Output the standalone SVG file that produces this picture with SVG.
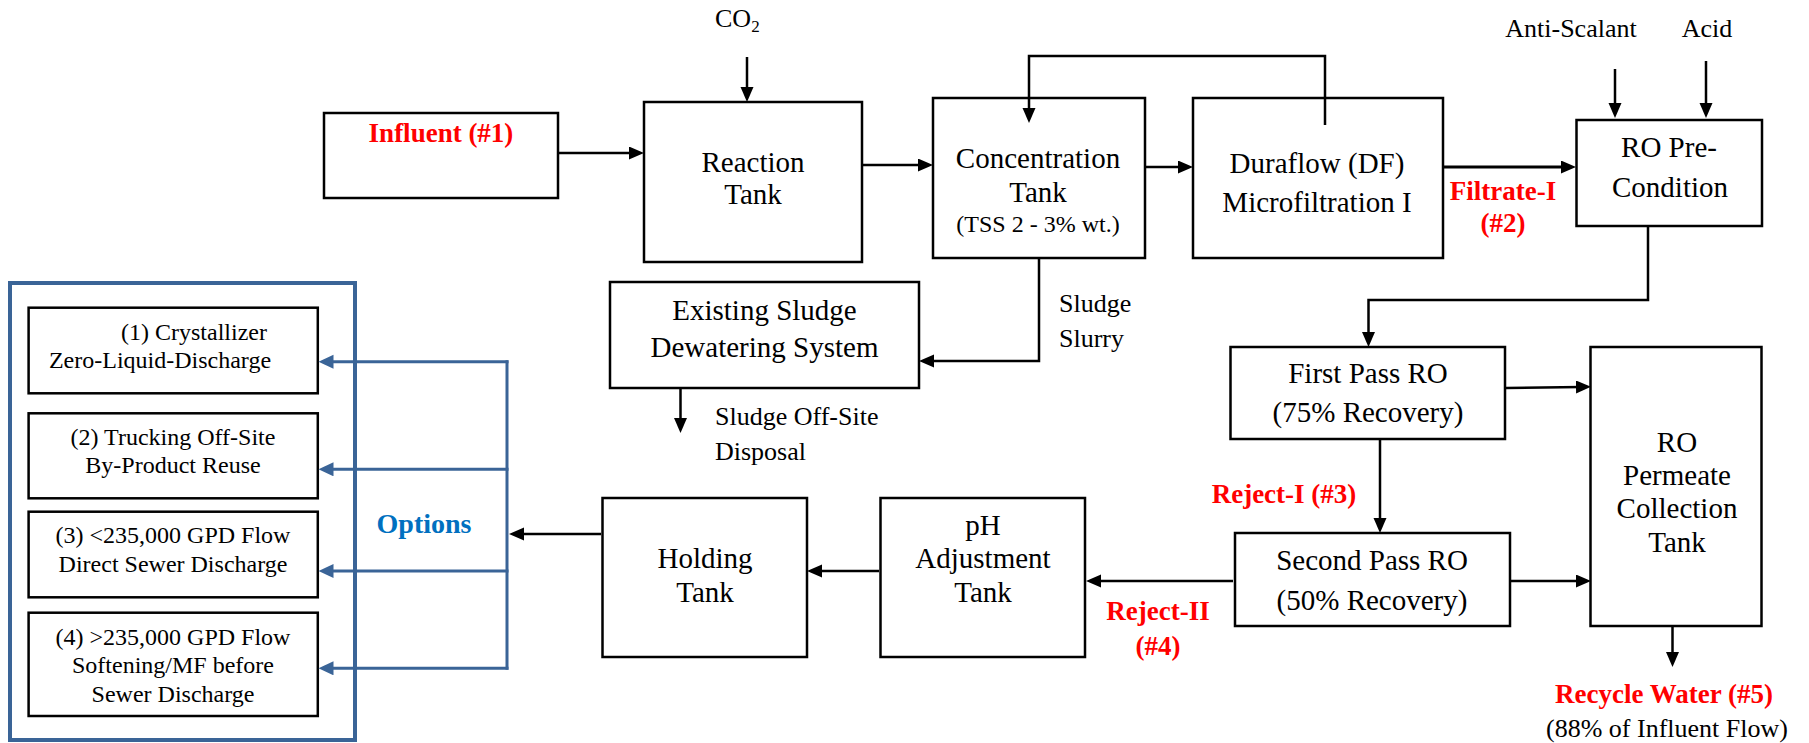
<svg xmlns="http://www.w3.org/2000/svg" width="1809" height="743" viewBox="0 0 1809 743">
<style>
.box{fill:#fff;stroke:#000;stroke-width:2.5}
.t{font-family:"Liberation Serif","Times New Roman",serif;font-size:29px;fill:#000;text-anchor:middle}
.s{font-family:"Liberation Serif","Times New Roman",serif;font-size:26px;fill:#000}
.o{font-family:"Liberation Serif","Times New Roman",serif;font-size:24px;fill:#000;text-anchor:middle}
.r{font-family:"Liberation Serif","Times New Roman",serif;font-size:27px;font-weight:bold;fill:#ff0000;text-anchor:middle}
.c{fill:none;stroke:#000;stroke-width:2.5}
.b{fill:none;stroke:#3a6497;stroke-width:3}
</style>
<defs>
<marker id="ah" markerUnits="userSpaceOnUse" markerWidth="16" markerHeight="14" refX="5" refY="6.5" orient="auto">
<path d="M0,0 L15,6.5 L0,13 z" fill="#000"/>
</marker>
<marker id="bh" markerUnits="userSpaceOnUse" markerWidth="16" markerHeight="15" refX="5" refY="7" orient="auto">
<path d="M0,0 L15,7 L0,14 z" fill="#3a6497"/>
</marker>
</defs>
<rect x="0" y="0" width="1809" height="743" fill="#fff"/>

<g id="influent">
<rect class="box" x="324" y="113" width="234" height="85"/>
<text class="r" x="441" y="142">Influent (#1)</text>
</g>
<g id="co2">
<text class="s" x="715" y="27">CO<tspan font-size="17" dy="5">2</tspan></text>
</g>
<g id="reaction-tank">
<rect class="box" x="644" y="102" width="218" height="160"/>
<text class="t" x="753" y="172">Reaction</text>
<text class="t" x="753" y="204">Tank</text>
</g>
<g id="concentration-tank">
<rect class="box" x="933" y="98" width="212" height="160"/>
<text class="t" x="1038" y="168">Concentration</text>
<text class="t" x="1038" y="202">Tank</text>
<text class="t" style="font-size:24px" x="1038" y="232">(TSS 2 - 3% wt.)</text>
</g>
<g id="duraflow">
<rect class="box" x="1193" y="98" width="250" height="160"/>
<text class="t" x="1317" y="173">Duraflow (DF)</text>
<text class="t" x="1317" y="212">Microfiltration I</text>
</g>
<g id="filtrate-label">
<text class="r" x="1503" y="200">Filtrate-I</text>
<text class="r" x="1503" y="232">(#2)</text>
</g>
<g id="anti-scalant">
<text class="s" x="1571" y="37" text-anchor="middle">Anti-Scalant</text>
</g>
<g id="acid">
<text class="s" x="1707" y="37" text-anchor="middle">Acid</text>
</g>
<g id="ro-precondition">
<rect class="box" x="1576.5" y="120" width="185.5" height="106"/>
<text class="t" x="1669" y="157">RO Pre-</text>
<text class="t" x="1670" y="197">Condition</text>
</g>
<g id="sludge-dewatering">
<rect class="box" x="610" y="282" width="309" height="106"/>
<text class="t" x="764.5" y="320">Existing Sludge</text>
<text class="t" x="764.5" y="357">Dewatering System</text>
</g>
<g id="sludge-slurry">
<text class="s" x="1059" y="312">Sludge</text>
<text class="s" x="1059" y="347">Slurry</text>
</g>
<g id="sludge-disposal">
<text class="s" x="715" y="425">Sludge Off-Site</text>
<text class="s" x="715" y="460">Disposal</text>
</g>
<g id="first-pass-ro">
<rect class="box" x="1230.5" y="347" width="274.5" height="92"/>
<text class="t" x="1368" y="383">First Pass RO</text>
<text class="t" x="1368" y="422">(75% Recovery)</text>
</g>
<g id="reject-1">
<text class="r" x="1284" y="503">Reject-I (#3)</text>
</g>
<g id="second-pass-ro">
<rect class="box" x="1235" y="533" width="275" height="93"/>
<text class="t" x="1372" y="570">Second Pass RO</text>
<text class="t" x="1372" y="610">(50% Recovery)</text>
</g>
<g id="permeate-tank">
<rect class="box" x="1590.5" y="347" width="171" height="279"/>
<text class="t" x="1677" y="452">RO</text>
<text class="t" x="1677" y="485">Permeate</text>
<text class="t" x="1677" y="518">Collection</text>
<text class="t" x="1677" y="552">Tank</text>
</g>
<g id="recycle-water">
<text class="r" x="1664" y="703">Recycle Water (#5)</text>
<text class="s" x="1667" y="737" text-anchor="middle">(88% of Influent Flow)</text>
</g>
<g id="ph-tank">
<rect class="box" x="880.5" y="498" width="204.5" height="159"/>
<text class="t" x="983" y="535">pH</text>
<text class="t" x="983" y="568">Adjustment</text>
<text class="t" x="983" y="602">Tank</text>
</g>
<g id="reject-2">
<text class="r" x="1158" y="620">Reject-II</text>
<text class="r" x="1158" y="655">(#4)</text>
</g>
<g id="holding-tank">
<rect class="box" x="602.5" y="498" width="204.5" height="159"/>
<text class="t" x="705" y="568">Holding</text>
<text class="t" x="705" y="602">Tank</text>
</g>
<g id="options">
<rect x="10" y="283" width="345" height="457" fill="none" stroke="#3a6497" stroke-width="4"/>
<text x="424" y="533" font-family="Liberation Serif, Times New Roman, serif" font-size="28" font-weight="bold" fill="#0070c0" text-anchor="middle">Options</text>
</g>
<g id="option-1">
<rect class="box" x="28.6" y="307.7" width="289.2" height="85.6"/>
<text class="o" x="194" y="340">(1) Crystallizer</text>
<text class="o" x="160" y="368">Zero-Liquid-Discharge</text>
</g>
<g id="option-2">
<rect class="box" x="28.6" y="413.3" width="289.2" height="85"/>
<text class="o" x="173" y="445">(2) Trucking Off-Site</text>
<text class="o" x="173" y="473">By-Product Reuse</text>
</g>
<g id="option-3">
<rect class="box" x="28.6" y="511.7" width="289.2" height="85.6"/>
<text class="o" x="173" y="543">(3) &lt;235,000 GPD Flow</text>
<text class="o" x="173" y="572">Direct Sewer Discharge</text>
</g>
<g id="option-4">
<rect class="box" x="28.6" y="612.7" width="289.2" height="103.3"/>
<text class="o" x="173" y="645">(4) &gt;235,000 GPD Flow</text>
<text class="o" x="173" y="673">Softening/MF before</text>
<text class="o" x="173" y="702">Sewer Discharge</text>
</g>

<g id="connectors">
<line class="c" x1="559" y1="153" x2="634" y2="153" marker-end="url(#ah)"/>
<line class="c" x1="747" y1="57" x2="747" y2="92" marker-end="url(#ah)"/>
<line class="c" x1="863" y1="165" x2="923" y2="165" marker-end="url(#ah)"/>
<line class="c" x1="1146" y1="167" x2="1183" y2="167" marker-end="url(#ah)"/>
<path class="c" d="M1325,125 V56 H1029 V113" marker-end="url(#ah)"/>
<line class="c" style="stroke-width:3.2" x1="1444" y1="167" x2="1566" y2="167" marker-end="url(#ah)"/>
<line class="c" x1="1615" y1="69" x2="1615" y2="108" marker-end="url(#ah)"/>
<line class="c" x1="1706" y1="61" x2="1706" y2="108" marker-end="url(#ah)"/>
<path class="c" d="M1648,227 V300 H1368.5 V337" marker-end="url(#ah)"/>
<line class="c" x1="1506" y1="388" x2="1581" y2="387" marker-end="url(#ah)"/>
<line class="c" x1="1380" y1="440" x2="1380" y2="523" marker-end="url(#ah)"/>
<line class="c" x1="1511" y1="581" x2="1581" y2="581" marker-end="url(#ah)"/>
<line class="c" x1="1233" y1="581" x2="1096" y2="581" marker-end="url(#ah)"/>
<line class="c" x1="879" y1="571" x2="817" y2="571" marker-end="url(#ah)"/>
<line class="c" x1="601" y1="534" x2="519" y2="534" marker-end="url(#ah)"/>
<path class="c" d="M1039,259 V361 H929" marker-end="url(#ah)"/>
<line class="c" x1="680.5" y1="389" x2="680.5" y2="423" marker-end="url(#ah)"/>
<line class="c" x1="1672.5" y1="627" x2="1672.5" y2="657" marker-end="url(#ah)"/>
<path class="b" d="M507,360.2 V669.8"/>
<line class="b" x1="508.5" y1="361.7" x2="328.5" y2="361.7" marker-end="url(#bh)"/>
<line class="b" x1="508.5" y1="469.3" x2="328.5" y2="469.3" marker-end="url(#bh)"/>
<line class="b" x1="508.5" y1="571" x2="328.5" y2="571" marker-end="url(#bh)"/>
<line class="b" x1="508.5" y1="668.3" x2="328.5" y2="668.3" marker-end="url(#bh)"/>
</g>
</svg>
